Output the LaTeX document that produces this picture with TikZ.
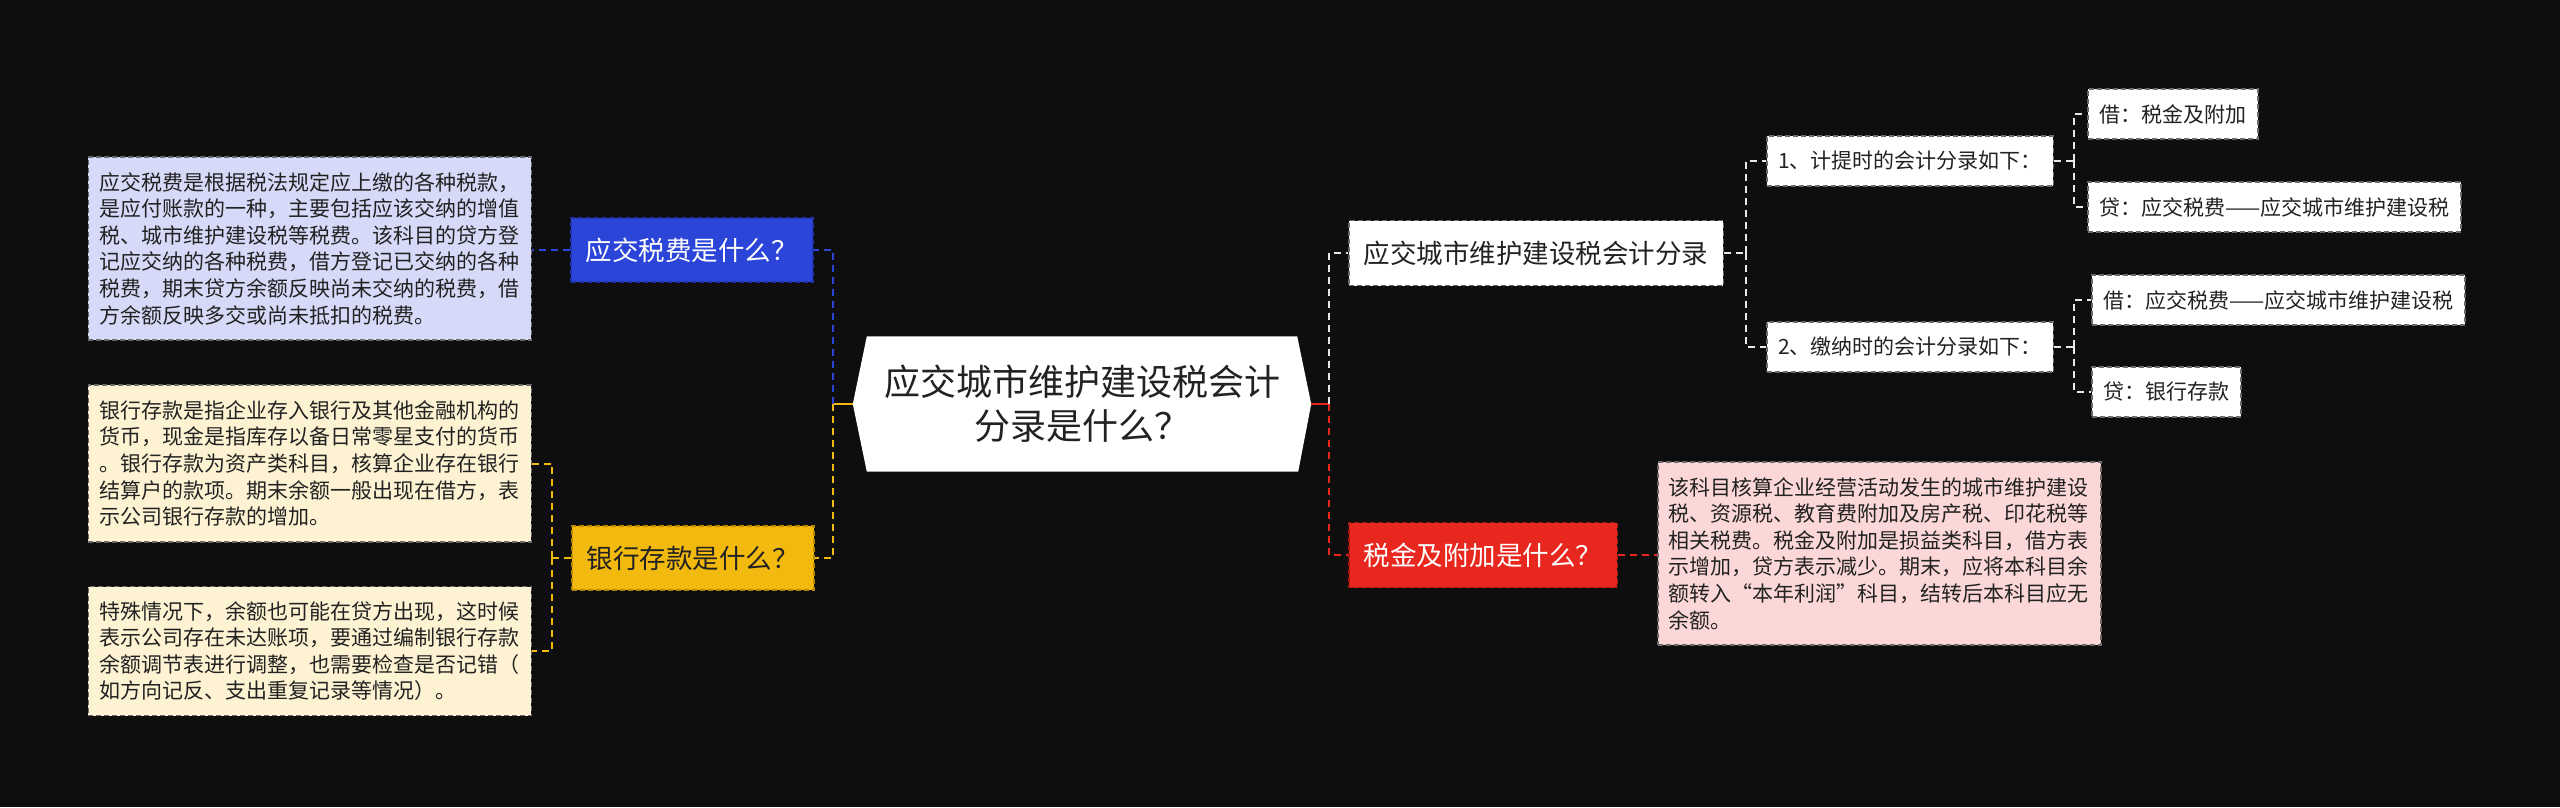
\documentclass[tikz,border=0pt]{standalone}
\usepackage{fontspec}
\setmainfont{Noto Sans CJK SC}
\usetikzlibrary{backgrounds}
\definecolor{bgc}{HTML}{0E0E0E}
\definecolor{bluec}{HTML}{2B45D8}
\definecolor{blueb}{HTML}{1E33A8}
\definecolor{blued}{HTML}{D6D9F7}
\definecolor{yelc}{HTML}{F2B90F}
\definecolor{yelb}{HTML}{B88A00}
\definecolor{yeld}{HTML}{FDF2D2}
\definecolor{redc}{HTML}{E8281E}
\definecolor{redb}{HTML}{A81810}
\definecolor{redd}{HTML}{FBD8D7}
\definecolor{ink}{HTML}{222222}
\definecolor{wline}{HTML}{E8E8E8}
\definecolor{gborder}{HTML}{6A6A6A}
\tikzset{
  box/.style={dash pattern=on 5pt off 3pt, line width=1.5pt},
  topic/.style={box, font=\fontsize{26.5}{32}\selectfont, inner xsep=15pt, inner ysep=0pt, minimum height=64pt, anchor=west},
  subbox/.style={box, fill=white, draw=gborder, text=ink, font=\fontsize{21}{26}\selectfont, inner xsep=11.5pt, inner ysep=0pt, minimum height=50pt, anchor=west},
  desc/.style={box, draw=gborder, text=ink, text width=421pt, inner xsep=11pt, inner ysep=0pt, align=left, font=\fontsize{21}{26.6}\selectfont},
  link/.style={line width=2pt, dash pattern=on 7pt off 5pt},
  stub/.style={line width=2pt},
}
\begin{document}
\begin{tikzpicture}[x=1pt,y=-1pt]
\useasboundingbox (0,0) rectangle (2560,807);

% central
\node[minimum width=458pt, minimum height=135pt, inner sep=0pt, align=center, text=ink,
      font=\fontsize{36}{44}\selectfont] (c) at (1082,404) {应交城市维护建设税会计\\分录是什么？};

% left topics
\node[topic, fill=bluec, draw=blueb, text=white] (blue) at (570,250) {应交税费是什么？};
\node[topic, fill=yelc, draw=yelb, text=ink] (yel) at (571,558) {银行存款是什么？};

\node[desc, fill=blued, anchor=east, minimum height=183pt] (bd) at (532,248.5) {应交税费是根据税法规定应上缴的各种税款，\\是应付账款的一种，主要包括应该交纳的增值\\税、城市维护建设税等税费。该科目的贷方登\\记应交纳的各种税费，借方登记已交纳的各种\\税费，期末贷方余额反映尚未交纳的税费，借\\方余额反映多交或尚未抵扣的税费。};
\node[desc, fill=yeld, anchor=east, minimum height=157pt] (y1) at (532,463.5) {银行存款是指企业存入银行及其他金融机构的\\货币，现金是指库存以备日常零星支付的货币\\。银行存款为资产类科目，核算企业存在银行\\结算户的款项。期末余额一般出现在借方，表\\示公司银行存款的增加。};
\node[desc, fill=yeld, anchor=east, minimum height=129pt] (y2) at (532,651) {特殊情况下，余额也可能在贷方出现，这时候\\表示公司存在未达账项，要通过编制银行存款\\余额调节表进行调整，也需要检查是否记错（\\如方向记反、支出重复记录等情况）。};

% right topics
\node[topic, fill=white, draw=gborder, text=ink, minimum height=65pt] (l2) at (1348,253) {应交城市维护建设税会计分录};
\node[topic, fill=redc, draw=redb, text=white, minimum height=65pt] (red) at (1348,555) {税金及附加是什么？};
\node[desc, fill=redd, anchor=west, minimum height=183pt] (pd) at (1657,553.5) {该科目核算企业经营活动发生的城市维护建设\\税、资源税、教育费附加及房产税、印花税等\\相关税费。税金及附加是损益类科目，借方表\\示增加，贷方表示减少。期末，应将本科目余\\额转入“本年利润”科目，结转后本科目应无\\余额。};

\node[subbox] (a1) at (1766,161) {1、计提时的会计分录如下：};
\node[subbox] (a2) at (1766,347) {2、缴纳时的会计分录如下：};
\node[subbox] (b1) at (2087,114) {借：税金及附加};
\node[subbox] (b2) at (2087,207) {贷：应交税费——应交城市维护建设税};
\node[subbox] (c1) at (2091,300) {借：应交税费——应交城市维护建设税};
\node[subbox] (c2) at (2091,392) {贷：银行存款};

% background and central shape
\begin{scope}[on background layer]
\fill[bgc] (0,0) rectangle (2560,807);
\fill[white] (c.west) -- ([xshift=14pt]c.north west) -- ([xshift=-14pt]c.north east) -- (c.east) -- ([xshift=-13pt]c.south east) -- ([xshift=14pt]c.south west) -- cycle;
\end{scope}

% junctions
\coordinate (jl) at ([xshift=-20pt]c.west);
\coordinate (jy) at ([xshift=-19pt]yel.west);
\coordinate (jr) at ([xshift=18pt]c.east);
\coordinate (j2) at ([xshift=22pt]l2.east);
\coordinate (j3) at ([xshift=20pt]a1.east);
\coordinate (j4) at ([xshift=20pt]a2.east);

% left connectors
\draw[stub, yelc] (c.west) -- (jl);
\draw[link, bluec] (jl) |- (blue.east);
\draw[link, yelc] (jl) |- (yel.east);
\draw[link, bluec] (blue.west) -- (blue.west -| bd.east);
\draw[link, yelc] (yel.west) -- (jy);
\draw[link, yelc] (jy) |- (y1.east);
\draw[link, yelc] (jy) |- (y2.east);

% right connectors
\draw[stub, redc] (c.east) -- (jr);
\draw[link, wline] (jr) |- (l2.west);
\draw[link, redc] (jr) |- (red.west);
\draw[link, redc] (red.east) -- (red.east -| pd.west);
\draw[link, wline] (l2.east) -- (j2);
\draw[link, wline] (j2) |- (a1.west);
\draw[link, wline] (j2) |- (a2.west);
\draw[link, wline] (a1.east) -- (j3);
\draw[link, wline] (j3) |- (b1.west);
\draw[link, wline] (j3) |- (b2.west);
\draw[link, wline] (a2.east) -- (j4);
\draw[link, wline] (j4) |- (c1.west);
\draw[link, wline] (j4) |- (c2.west);
\end{tikzpicture}
\end{document}
